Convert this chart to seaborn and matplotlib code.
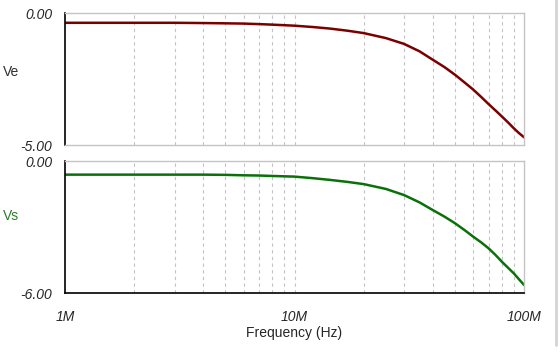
import numpy as np
import pandas as pd
import seaborn as sns
import matplotlib.pyplot as plt
from matplotlib.ticker import FixedLocator, MultipleLocator, NullFormatter
from matplotlib.lines import Line2D

# frecuencias en MHz
freq_mhz = [1, 2, 3, 4, 5, 6, 7, 8, 10, 12, 14.3, 17, 20, 25, 30, 35, 40, 45, 50, 55,
            60, 65, 70, 75, 80, 85, 90, 95, 100]
ve = [-0.37, -0.37, -0.37, -0.38, -0.39, -0.40, -0.42, -0.44, -0.48, -0.53, -0.59, -0.67,
      -0.76, -0.95, -1.17, -1.45, -1.77, -2.05, -2.34, -2.63, -2.90, -3.18, -3.45, -3.69,
      -3.92, -4.14, -4.36, -4.55, -4.71]
vs = [-0.62, -0.62, -0.62, -0.62, -0.63, -0.65, -0.66, -0.68, -0.71, -0.78, -0.86, -0.95,
      -1.05, -1.27, -1.55, -1.88, -2.23, -2.53, -2.83, -3.14, -3.44, -3.70, -3.97, -4.27,
      -4.58, -4.85, -5.10, -5.38, -5.64]
xtick_vals = [1e6, 1e7, 1e8]
xtick_labels = ['1M', '10M', '100M']

df = pd.DataFrame({'freq': np.array(freq_mhz) * 1e6, 'Ve': ve, 'Vs': vs})

sns.set_style('white')
plt.rcParams['font.family'] = ['Liberation Sans', 'DejaVu Sans']
plt.rcParams['font.size'] = 10

fig = plt.figure(figsize=(5.6, 3.52), dpi=100)
ax1 = fig.add_axes([0.116, 0.588, 0.82, 0.375])
ax2 = fig.add_axes([0.116, 0.1676, 0.82, 0.375])

sns.lineplot(data=df, x='freq', y='Ve', ax=ax1, color='#7a0000', linewidth=1.8)
sns.lineplot(data=df, x='freq', y='Vs', ax=ax2, color='#0a700a', linewidth=1.8)

grid_x = [m * 10 ** e for e in (6, 7) for m in range(2, 10)] + [1e7]
gray = '#c4c4c4'

for ax, lo, minor in ((ax1, -5, 0.5), (ax2, -6, 0.6)):
    ax.set_xscale('log')
    ax.set_xlim(1e6, 1e8)
    ax.set_ylim(lo, 0)
    ax.set_xlabel('')
    ax.set_ylabel('')
    for x in grid_x:
        ax.axvline(x, color=gray, lw=0.8, ls=(0, (3, 3)), zorder=0)
    ax.yaxis.set_major_locator(FixedLocator([lo, 0]))
    ax.set_yticklabels([f'{lo:.2f}', '0.00'], fontstyle='italic')
    ax.yaxis.set_minor_locator(MultipleLocator(minor))
    ax.tick_params(axis='y', which='major', direction='out', length=8, width=1, pad=1)
    ax.tick_params(axis='y', which='minor', direction='in', length=4, width=1)
    for s in ('top', 'right', 'bottom'):
        ax.spines[s].set_color(gray)
        ax.spines[s].set_linewidth(1)
    ax.spines['left'].set_color('black')
    ax.spines['left'].set_linewidth(1.2)

ax1.tick_params(axis='x', which='both', bottom=False, labelbottom=False)

ax2.spines['bottom'].set_color('black')
ax2.spines['bottom'].set_linewidth(1.2)
ax2.xaxis.set_major_locator(FixedLocator(xtick_vals))
ax2.set_xticklabels(xtick_labels, fontstyle='italic')
ax2.xaxis.set_minor_formatter(NullFormatter())
ax2.tick_params(axis='x', which='major', direction='out', length=10, width=1, pad=2)
ax2.tick_params(axis='x', which='minor', direction='out', length=4, width=1)
ax2.set_xlabel('Frequency (Hz)', fontsize=10, labelpad=2)

fig.text(0.005, 0.795, 'Ve', fontsize=10, color='#303030', va='center')
fig.text(0.005, 0.385, 'Vs', fontsize=10, color='#2a7a2a', va='center')

fig.add_artist(Line2D([0.992, 0.992], [0.02, 1.0], transform=fig.transFigure,
                      color='#d4d4d4', lw=2))

fig.savefig('out.png', dpi=100)
